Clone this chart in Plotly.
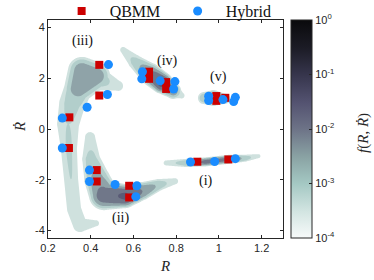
import numpy as np
import plotly.graph_objects as go

# ---------------- data ----------------
# QBMM nodes (red squares)
QBMM_R = [0.44, 0.44, 0.30, 0.673, 0.673, 0.753, 0.753, 0.988, 0.988, 1.03,
          0.298, 0.428, 0.428, 0.580, 0.580, 0.899, 1.044]
QBMM_RDOT = [2.53, 1.32, 0.46, 2.26, 1.98, 1.85, 1.58, 1.30, 1.11, 1.23,
             -0.75, -1.62, -2.07, -2.24, -2.70, -1.29, -1.20]
# Hybrid nodes (blue circles)
HYB_R = [0.483, 0.478, 0.383, 0.267, 0.642, 0.639, 0.725, 0.794, 0.788,
         0.952, 0.952, 1.019, 1.077, 1.069,
         0.267, 0.394, 0.394, 0.514, 0.616, 0.611, 0.867, 0.980, 1.077]
HYB_RDOT = [2.54, 1.36, 0.86, 0.43, 2.26, 1.98, 1.90, 1.87, 1.58,
            1.29, 1.12, 1.16, 1.25, 1.08,
            -0.75, -1.62, -2.07, -2.19, -2.24, -2.67, -1.30, -1.28, -1.17]

# density ridges of f(R, Rdot): centre line (R, Rdot), spread (px) and peak log10 f
RIDGE_III_R = [0.359, 0.425, 0.341, 0.359]
RIDGE_III_Y = [2.29, 2.09, 1.58, 2.29]
RIDGE_III_W = [14, 14, 14, 14]
RIDGE_III_P = [-2.2, -2.2, -2.25, -2.2]

RIDGE_IIIB_R = [0.434, 0.528]
RIDGE_IIIB_Y = [1.98, 1.70]
RIDGE_IIIB_W = [12, 5]
RIDGE_IIIB_P = [-2.6, -3.3]

RIDGE_IIIS_R = [0.341, 0.313, 0.294, 0.298, 0.308, 0.322, 0.350, 0.425]
RIDGE_IIIS_Y = [1.58, 0.99, 0.20, -0.79, -1.98, -3.16, -3.79, -3.72]
RIDGE_IIIS_W = [14, 13, 11, 8, 7, 7, 7, 3]
RIDGE_IIIS_P = [-2.4, -2.8, -3.0, -2.95, -3.0, -3.1, -3.2, -3.45]

RIDGE_II_R = [0.397, 0.402, 0.430, 0.462, 0.561, 0.641, 0.716, 0.795]
RIDGE_II_Y = [-0.32, -1.19, -1.98, -2.61, -2.65, -2.45, -2.21, -2.06]
RIDGE_II_W = [5, 9, 13, 15, 12, 9, 6, 3]
RIDGE_II_P = [-3.3, -2.8, -2.3, -1.7, -1.4, -2.0, -2.6, -3.4]

RIDGE_IV_R = [0.552, 0.608, 0.678, 0.734, 0.786, 0.825]
RIDGE_IV_Y = [3.12, 2.65, 2.17, 1.82, 1.50, 1.32]
RIDGE_IV_W = [3, 7, 11, 11, 8, 3]
RIDGE_IV_P = [-3.4, -2.8, -1.9, -1.3, -2.2, -3.3]

RIDGE_V_R = [0.930, 0.974, 1.030]
RIDGE_V_Y = [1.22, 1.22, 1.19]
RIDGE_V_W = [6, 8, 5]
RIDGE_V_P = [-2.6, -1.9, -2.3]

RIDGE_I_R = [0.753, 0.842, 0.936, 1.053, 1.124, 1.185]
RIDGE_I_Y = [-1.34, -1.34, -1.30, -1.19, -1.15, -1.07]
RIDGE_I_W = [2.5, 4, 4.5, 4.5, 3.5, 2]
RIDGE_I_P = [-3.3, -2.7, -1.8, -1.9, -2.7, -3.4]

REGION_LABELS = ["(iii)", "(iv)", "(v)", "(ii)", "(i)"]
REGION_LABEL_R = [0.36, 0.757, 0.997, 0.54, 0.94]
REGION_LABEL_Y = [3.48, 2.69, 2.06, -3.5, -2.05]

X_TICKS = [0.2, 0.4, 0.6, 0.8, 1.0, 1.2]
X_TICKTEXT = ["0.2", "0.4", "0.6", "0.8", "1", "1.2"]
Y_TICKS = [-4, -2, 0, 2, 4]
Y_TICKTEXT = ["-4", "-2", "0", "2", "4"]
CB_TICKS = [-4, -3, -2, -1, 0]
CB_TICKTEXT = ["10<sup>-4</sup>", "10<sup>-3</sup>", "10<sup>-2</sup>",
               "10<sup>-1</sup>", "10<sup>0</sup>"]

# ---------------- density field ----------------
XR = [0.2, 1.3]
YR = [-4.3, 4.3]
PX_PER_X = 213.3
PX_PER_Y = 25.3

gx = np.linspace(XR[0], XR[1], 441)
gy = np.linspace(YR[0], YR[1], 431)
GX, GY = np.meshgrid(gx, gy)
SX = GX * PX_PER_X
SY = GY * PX_PER_Y
FLOOR = -3.5
EXPO = 2.5


def ridge(xs, ys, ws, ps):
    out = np.full(SX.shape, -6.0)
    xs = np.asarray(xs) * PX_PER_X
    ys = np.asarray(ys) * PX_PER_Y
    for i in range(len(xs) - 1):
        ax, ay, bx, by = xs[i], ys[i], xs[i + 1], ys[i + 1]
        dx, dy = bx - ax, by - ay
        L2 = dx * dx + dy * dy
        t = np.clip(((SX - ax) * dx + (SY - ay) * dy) / L2, 0, 1) if L2 > 0 else np.zeros(SX.shape)
        d = np.hypot(SX - ax - t * dx, SY - ay - t * dy)
        w = ws[i] + (ws[i + 1] - ws[i]) * t
        p = ps[i] + (ps[i + 1] - ps[i]) * t
        val = p - (p - FLOOR) * (d / w) ** EXPO
        out = np.maximum(out, val)
    return out


Z = np.full(SX.shape, -6.0)
for args in [
    (RIDGE_III_R, RIDGE_III_Y, RIDGE_III_W, RIDGE_III_P),
    (RIDGE_IIIB_R, RIDGE_IIIB_Y, RIDGE_IIIB_W, RIDGE_IIIB_P),
    (RIDGE_IIIS_R, RIDGE_IIIS_Y, RIDGE_IIIS_W, RIDGE_IIIS_P),
    (RIDGE_II_R, RIDGE_II_Y, RIDGE_II_W, RIDGE_II_P),
    (RIDGE_IV_R, RIDGE_IV_Y, RIDGE_IV_W, RIDGE_IV_P),
    (RIDGE_V_R, RIDGE_V_Y, RIDGE_V_W, RIDGE_V_P),
    (RIDGE_I_R, RIDGE_I_Y, RIDGE_I_W, RIDGE_I_P),
]:
    Z = np.maximum(Z, ridge(*args))
Z = np.clip(Z, -4.5, 0)

# ---------------- colours ----------------
C1, C2, C3, C4, C5 = "#cfe1de", "#b2cecb", "#8fa3a8", "#707789", "#5a5b76"
fill_scale = [[0, "rgba(255,255,255,0)"], [0.1, "rgba(255,255,255,0)"],
              [0.1, C1], [0.3, C1], [0.3, C2], [0.5, C2], [0.5, C3], [0.7, C3],
              [0.7, C4], [0.9, C4], [0.9, C5], [1, C5]]
cb_scale = [[0, "#f7fafa"], [0.12, "#d3e5e2"], [0.25, "#a4c8c3"], [0.37, "#8aa3a4"],
            [0.5, "#6d7387"], [0.62, "#545371"], [0.75, "#36354c"], [0.87, "#1c1c26"],
            [1, "#0a0a0c"]]

SERIF = "Liberation Serif"
SANS = "Liberation Sans"
AX = "#262626"
NB = "\u00a0\u00a0"

fig = go.Figure()
fig.add_trace(go.Contour(
    x=gx, y=gy, z=Z, colorscale=fill_scale, showscale=False, autocontour=False,
    contours=dict(start=-3.5, end=-1.5, size=0.5, coloring="fill", showlines=False),
    line=dict(width=0), hoverinfo="skip", showlegend=False,
))
fig.add_trace(go.Scatter(
    x=[None], y=[None], mode="markers", showlegend=False, hoverinfo="skip",
    marker=dict(color=[-4], cmin=-4, cmax=0, colorscale=cb_scale, showscale=True,
                colorbar=dict(
                    x=1.034, xanchor="left", xref="paper", thickness=21, thicknessmode="pixels",
                    len=1, lenmode="fraction", y=0.5, yanchor="middle", ypad=0, xpad=0,
                    outlinewidth=1, outlinecolor=AX,
                    tickvals=CB_TICKS, ticktext=CB_TICKTEXT, ticks="inside", ticklen=3,
                    tickcolor=AX, tickfont=dict(family=SANS, size=11, color=AX),
                )),
))
fig.add_trace(go.Scatter(
    x=QBMM_R, y=QBMM_RDOT, mode="markers", name=NB + "QBMM",
    marker=dict(symbol="square", size=8, color="#cc0000"),
))
fig.add_trace(go.Scatter(
    x=HYB_R, y=HYB_RDOT, mode="markers", name=NB + "Hybrid",
    marker=dict(symbol="circle", size=9, color="#1a8cff"),
))
for t, xx, yy in zip(REGION_LABELS, REGION_LABEL_R, REGION_LABEL_Y):
    fig.add_annotation(x=xx, y=yy, text=t, showarrow=False,
                       font=dict(family=SERIF, size=14, color="#111111"))
# colour-bar title
fig.add_annotation(xref="paper", yref="paper", x=1.343, y=0.48, showarrow=False,
                   xanchor="center", yanchor="middle",
                   textangle=-90, text="<i>f</i>(<i>R</i>, <i>Ṙ</i>)",
                   font=dict(family=SERIF, size=15, color=AX))
# y-axis title
fig.add_annotation(xref="paper", yref="paper", x=-0.119, y=0.509, showarrow=False,
                   xanchor="center", yanchor="middle",
                   textangle=-90, text="<i>Ṙ</i>",
                   font=dict(family=SERIF, size=15, color=AX))

axis_common = dict(showline=True, linecolor=AX, linewidth=1, mirror="ticks",
                   ticks="inside", ticklen=3, tickcolor=AX, showgrid=False, zeroline=False,
                   tickfont=dict(family=SANS, size=11, color=AX))
fig.update_xaxes(range=XR, tickvals=X_TICKS, ticktext=X_TICKTEXT,
                 title=dict(text="<i>R</i>", font=dict(family=SERIF, size=15, color=AX), standoff=7),
                 **axis_common)
fig.update_yaxes(range=YR, tickvals=Y_TICKS, ticktext=Y_TICKTEXT, **axis_common)
fig.update_layout(
    width=374, height=280, margin=dict(l=48, r=91, t=20, b=42, autoexpand=False),
    plot_bgcolor="white", paper_bgcolor="white",
    legend=dict(orientation="h", x=0.058, y=1.041, xanchor="left", yanchor="middle",
                font=dict(family=SERIF, size=16, color="#111111"),
                bgcolor="rgba(0,0,0,0)", itemwidth=30, entrywidth=71),
)
fig.write_html("out.html", config={"displayModeBar": False},
               post_script="document.body.style.margin='0px';")
